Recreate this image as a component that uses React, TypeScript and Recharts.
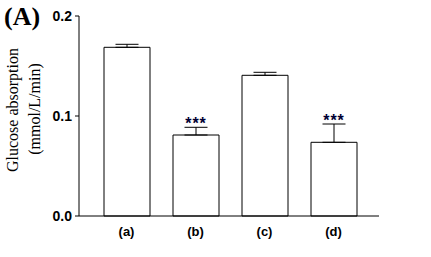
import React from 'react';
import { ComposedChart, Bar, Line, XAxis, YAxis, ErrorBar } from 'recharts';

const categories = ['(a)', '(b)', '(c)', '(d)'];
const values = [0.1687, 0.081, 0.1407, 0.0737];
const errors = [0.003, 0.0077, 0.003, 0.0183];
const significance = ['', '***', '', '***'];
const yTicks = [0, 0.1, 0.2];
const panelLabel = '(A)';
const yLabelLine1 = 'Glucose absorption';
const yLabelLine2 = '(mmol/L/min)';

const data = categories.map((c, i) => ({
  name: c,
  value: values[i],
  err: [0, errors[i]],
  starY: significance[i] ? values[i] + errors[i] : null,
  sig: significance[i],
}));

const SANS = "'Liberation Sans', Arial, sans-serif";
const SERIF = "'Liberation Serif', 'Times New Roman', serif";

const StarDot = (props: any) => {
  const { cx, cy, payload, index } = props;
  if (cy == null || !payload || !payload.sig) return <g key={'s' + index} />;
  return (
    <text
      key={'s' + index}
      x={cx + 0.5}
      y={cy + 2}
      textAnchor="middle"
      fontFamily={SANS}
      fontWeight="bold"
      fontSize={16}
      letterSpacing={1}
      fill="#000033"
    >
      {payload.sig}
    </text>
  );
};

const YLabel = () => (
  <g>
    <text x={4} y={25} fontFamily={SERIF} fontWeight="bold" fontSize={26} fill="#000">
      {panelLabel}
    </text>
    <text
      x={17.5}
      y={110}
      transform="rotate(-90 17.5 110)"
      textAnchor="middle"
      fontFamily={SERIF}
      fontSize={16}
      fill="#000"
    >
      {yLabelLine1}
    </text>
    <text
      x={39.5}
      y={109}
      transform="rotate(-90 39.5 109)"
      textAnchor="middle"
      fontFamily={SERIF}
      fontSize={16}
      fill="#000"
    >
      {yLabelLine2}
    </text>
  </g>
);

export default function App() {
  return (
    <div style={{ position: 'absolute', left: 0, top: 0, width: 431, height: 257, background: '#fff' }}>
      <ComposedChart
        width={431}
        height={257}
        data={data}
        margin={{ top: 16, right: 52, bottom: 11, left: 0 }}
      >
        <XAxis
          dataKey="name"
          padding={{ left: 13, right: 11 }}
          axisLine={{ stroke: '#000', strokeWidth: 1 }}
          tickLine={false}
          tickMargin={5}
          height={30}
          tick={{ fill: '#000', fontSize: 13, fontWeight: 'bold', fontFamily: SANS }}
        />
        <YAxis
          width={79}
          domain={[0, 0.2]}
          ticks={yTicks}
          tickFormatter={(v: number) => v.toFixed(1)}
          axisLine={{ stroke: '#000', strokeWidth: 1 }}
          tickLine={{ stroke: '#000', strokeWidth: 1 }}
          tickSize={4}
          tickMargin={3}
          tick={{ fill: '#000', fontSize: 14, fontWeight: 'bold', fontFamily: SANS }}
          label={{ content: () => <YLabel /> } as any}
        />
        <Bar
          dataKey="value"
          barSize={46}
          fill="#fff"
          stroke="#000"
          strokeWidth={1}
          isAnimationActive={false}
        >
          <ErrorBar dataKey="err" direction="y" width={11.5} stroke="#000" strokeWidth={1} />
        </Bar>
        <Line
          dataKey="starY"
          stroke="none"
          dot={StarDot}
          activeDot={false}
          isAnimationActive={false}
          connectNulls={false}
        />
      </ComposedChart>
    </div>
  );
}
